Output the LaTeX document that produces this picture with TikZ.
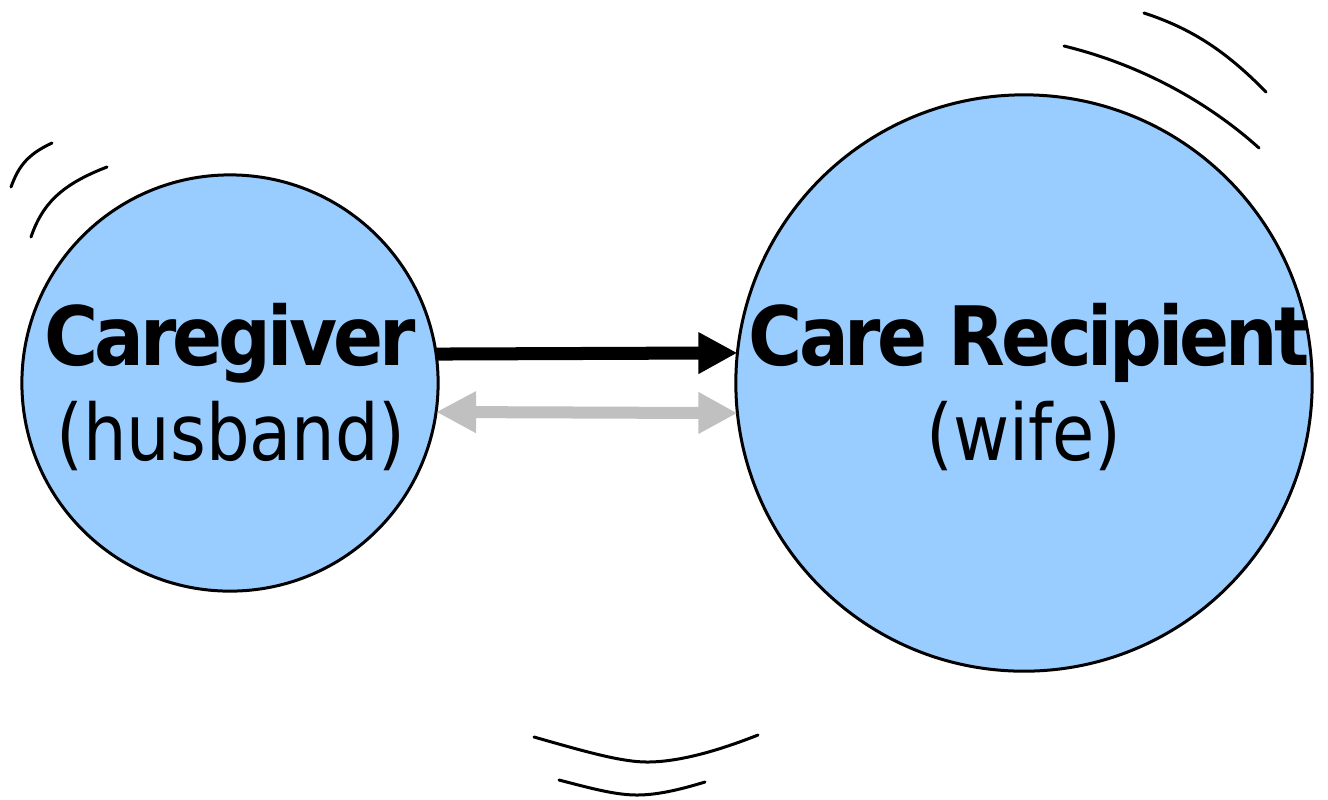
\documentclass[tikz,border=0pt]{standalone}
\usepackage{fontspec}
\usetikzlibrary{arrows.meta}
\newfontfamily\boldlbl[FakeStretch=0.9,LetterSpace=-4.8]{DejaVu Sans Bold}
\newfontfamily\reglbl[FakeStretch=0.88]{DejaVu Sans}
\definecolor{circfill}{RGB}{153,204,255}
\definecolor{lightgrey}{RGB}{192,192,192}
\begin{document}
\begin{tikzpicture}[x=0.01cm,y=-0.01cm,
  person/.style={circle, draw=black, line width=0.03cm, fill=circfill, inner sep=0pt, outer sep=0pt},
  title/.style={anchor=base, inner sep=0pt, font=\boldlbl\fontsize{23.3}{28}\selectfont},
  sub/.style={anchor=base, inner sep=0pt, font=\reglbl\fontsize{22.2}{27}\selectfont},
  swoosh/.style={line width=0.03cm, line cap=round},
  bigarrow/.style={line width=0.13cm, -{Triangle[length=0.39cm,width=0.39cm]}},
  greyarrow/.style={line width=0.12cm, lightgrey, {Triangle[length=0.40cm,width=0.39cm]}-{Triangle[length=0.39cm,width=0.39cm]}}]
\useasboundingbox (0,0) rectangle (1328,799);
\node[person, minimum size=4.16cm] (cg) at (230,383) {};
\node[person, minimum size=5.76cm] (cr) at (1024,383) {};
\node[title] (cgt) at (230,365) {Caregiver};
\node[sub] (cgs) at (231,460) {(husband)};
\node[title] (crt) at (1029,365) {Care Recipient};
\node[sub] (crs) at (1024,460) {(wife)};
\draw[bigarrow] (cg.8.3) -- (cr.174);
\draw[greyarrow] (cg.-8.3) -- (cr.186);
% swooshes
\draw[swoosh] (11,187) .. controls (18,168) and (26,155) .. (52,143);
\draw[swoosh] (31,237) .. controls (42,205) and (60,185) .. (107,167);
\draw[swoosh] (1064,46) .. controls (1130,62) and (1200,95) .. (1259,148);
\draw[swoosh] (1144,13) .. controls (1190,28) and (1225,50) .. (1266,92);
\draw[swoosh] (534,737) .. controls (580,750) and (620,762) .. (647,762) .. controls (680,762) and (720,750) .. (758,735);
\draw[swoosh] (559,780) .. controls (590,788) and (615,795) .. (637,795) .. controls (660,795) and (685,788) .. (705,782);
\end{tikzpicture}
\end{document}
